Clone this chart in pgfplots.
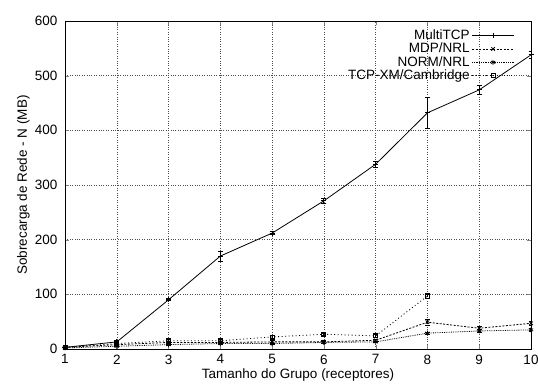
\documentclass[border=0pt]{standalone}
\usepackage{pgfplots}
\pgfplotsset{compat=1.18}
\usepackage{fontspec}
\setmainfont{Liberation Sans}
\begin{document}
\fontsize{13.5}{15}\selectfont
\begin{tikzpicture}[x=1pt,y=1pt]
\path[use as bounding box] (-65,-41) rectangle (473,349);
\begin{axis}[
  at={(0,0)}, anchor=south west,
  scale only axis,
  width=466pt, height=328pt,
  xmin=1, xmax=10, ymin=0, ymax=600,
  xtick={1,...,10}, ytick={0,100,...,600},
  /pgf/number format/assume math mode=true,
  tick label style={font=\fontsize{13.5}{15}\selectfont},
  label style={font=\fontsize{13.5}{15}\selectfont},
  xticklabel style={yshift=-1pt},
  yticklabel style={xshift=-3pt},
  xlabel={Tamanho do Grupo (receptores)},
  ylabel={Sobrecarga de Rede - N (MB)},
  xlabel style={yshift=5pt},
  ylabel style={yshift=-4pt},
  grid=major,
  major grid style={black!70, dotted, line width=0.5pt},
  tick align=inside, tick pos=both,
  major tick length=4pt,
  axis line style={line width=0.9pt},
  legend style={draw=none, fill=none, at={(0.965,0.98)}, anchor=north east,
    font=\fontsize{13.5}{14}\selectfont, row sep=-2.5pt, inner sep=0pt},
  legend cell align=right,
  legend plot pos=right,
  legend image code/.code={\draw[#1] (3pt,0pt) -- (45pt,0pt); \draw[#1, only marks] plot coordinates {(24pt,0pt)};},
  every axis plot/.append style={line width=0.8pt, mark size=2.5pt},
  error bars/error bar style={line width=0.8pt},
  error bars/error mark options={rotate=90, mark size=2.5pt, line width=0.8pt},
]
\addplot[black, solid, mark=+, error bars/.cd, y dir=both, y explicit]
  coordinates {(1,3)+-(0,1) (2,13)+-(0,2) (3,90)+-(0,2) (4,170)+-(0,9) (5,212)+-(0,3) (6,271)+-(0,4) (7,338)+-(0,5) (8,432)+-(0,28) (9,474)+-(0,9) (10,538)+-(0,6)};
\addlegendentry{MultiTCP}
\addplot[black, dash pattern=on 2pt off 1.5pt, mark=x, mark options={solid}, error bars/.cd, y dir=both, y explicit]
  coordinates {(1,3)+-(0,1) (2,8)+-(0,2) (3,12)+-(0,2) (4,12)+-(0,2) (5,13)+-(0,2) (6,13)+-(0,2) (7,16)+-(0,2) (8,49)+-(0,5) (9,38)+-(0,3) (10,47)+-(0,4)};
\addlegendentry{MDP/NRL}
\addplot[black, dash pattern=on 0.8pt off 1pt, mark=asterisk, mark options={solid}, error bars/.cd, y dir=both, y explicit]
  coordinates {(1,2)+-(0,1) (2,5)+-(0,1) (3,8)+-(0,1) (4,10)+-(0,1) (5,10)+-(0,1) (6,12)+-(0,1) (7,13)+-(0,1) (8,29)+-(0,2) (9,33)+-(0,2) (10,35)+-(0,2)};
\addlegendentry{NORM/NRL}
\addplot[black, dash pattern=on 1pt off 2.5pt, mark=square, mark size=2pt, mark options={solid}, error bars/.cd, y dir=both, y explicit]
  coordinates {(1,3)+-(0,1) (2,10)+-(0,2) (3,15)+-(0,2) (4,15)+-(0,2) (5,22)+-(0,3) (6,27)+-(0,2) (7,24)+-(0,3) (8,97)+-(0,5)};
\addlegendentry{TCP-XM/Cambridge}
\end{axis}
\end{tikzpicture}
\end{document}
